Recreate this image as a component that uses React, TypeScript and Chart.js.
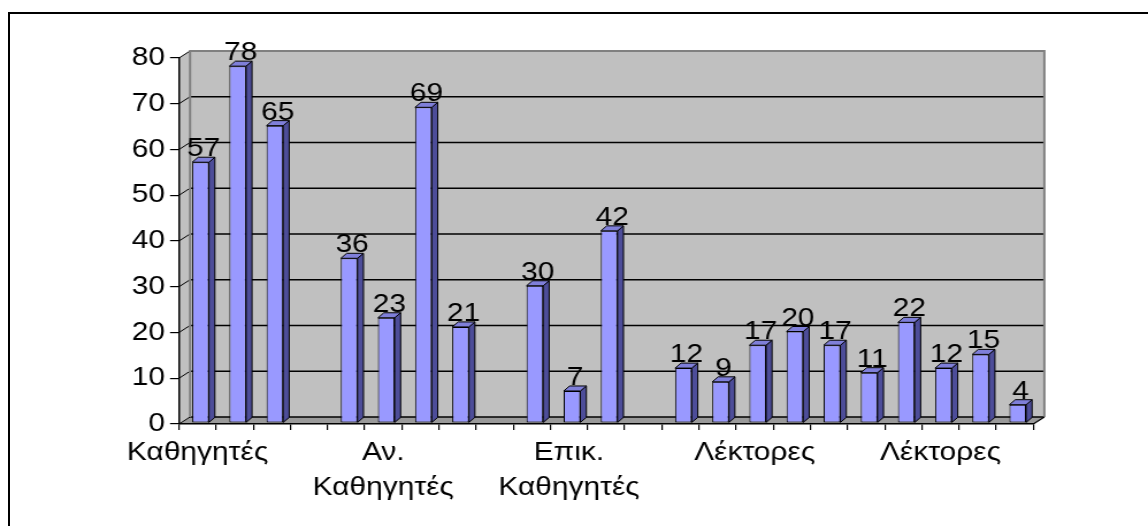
import React, { useEffect, useRef } from 'react';
import { Chart, registerables } from 'chart.js';

Chart.register(...registerables);

// ---- data ----
const categories: (string | string[])[] = [
  'Καθηγητές', '', '', '', '',
  ['Αν.', 'Καθηγητές'], '', '', '', '',
  ['Επικ.', 'Καθηγητές'], '', '', '', '',
  'Λέκτορες', '', '', '', '',
  'Λέκτορες', '', '',
];
const values: (number | null)[] = [
  57, 78, 65, null, 36, 23, 69, 21, null, 30, 7, 42, null,
  12, 9, 17, 20, 17, 11, 22, 12, 15, 4,
];
const yMin = 0;
const yMax = 80;
const yStep = 10;

// ---- presentation ----
const PAGE_W = 1148;
const PAGE_H = 526;
const W = 998; // internal canvas width, stretched horizontally to page width
const FONT = '"Liberation Sans", Arial, sans-serif';
const FS = 26;
const DX = 9.6; // wall depth
const DY = -7;
const BDX = 5.2; // bar depth
const BDY = -5;
const BAR_SHIFT_X = 2.6; // bars sit half-way into the depth
const BAR_SHIFT_Y = -1;

const threeD = {
  id: 'threeD',
  beforeDraw(chart: any) {
    const { ctx, chartArea, scales } = chart;
    const { left: L, right: R, top: T, bottom: B } = chartArea;
    const y = scales.y;
    ctx.save();
    // back wall
    ctx.fillStyle = '#c0c0c0';
    ctx.fillRect(L + DX, T + DY, R - L, B - T);
    // left wall
    ctx.beginPath();
    ctx.moveTo(L, T);
    ctx.lineTo(L + DX, T + DY);
    ctx.lineTo(L + DX, B + DY);
    ctx.lineTo(L, B);
    ctx.closePath();
    ctx.fillStyle = '#c0c0c0';
    ctx.fill();
    // floor
    ctx.beginPath();
    ctx.moveTo(L, B);
    ctx.lineTo(R, B);
    ctx.lineTo(R + DX, B + DY);
    ctx.lineTo(L + DX, B + DY);
    ctx.closePath();
    ctx.fillStyle = '#9a9a9a';
    ctx.fill();
    // gridlines on back wall and side wall
    for (let v = yMin; v <= yMax; v += yStep) {
      const py = y.getPixelForValue(v);
      ctx.strokeStyle = '#000';
      ctx.lineWidth = 1.6;
      if (v < yMax) {
        ctx.beginPath();
        ctx.moveTo(L + DX, py + DY);
        ctx.lineTo(R + DX, py + DY);
        ctx.stroke();
      }
      ctx.lineWidth = 1;
      ctx.beginPath();
      ctx.moveTo(L, py);
      ctx.lineTo(L + DX, py + DY);
      ctx.stroke();
    }
    // wall edges
    ctx.strokeStyle = '#808080';
    ctx.lineWidth = 2;
    ctx.beginPath();
    ctx.moveTo(L + DX, B + DY);
    ctx.lineTo(L + DX, T + DY);
    ctx.lineTo(R + DX, T + DY);
    ctx.lineTo(R + DX, B + DY);
    ctx.stroke();
    // floor right edge
    ctx.strokeStyle = '#000';
    ctx.lineWidth = 1.2;
    ctx.beginPath();
    ctx.moveTo(R, B);
    ctx.lineTo(R + DX, B + DY);
    ctx.stroke();
    ctx.restore();
  },
  beforeDatasetsDraw(chart: any) {
    chart.ctx.save();
    chart.ctx.translate(BAR_SHIFT_X, BAR_SHIFT_Y);
  },
  afterDatasetsDraw(chart: any) {
    const { ctx } = chart;
    const meta = chart.getDatasetMeta(0);
    meta.data.forEach((bar: any, i: number) => {
      const v = values[i];
      if (v == null) return;
      const { x, y, base, width } = bar.getProps(['x', 'y', 'base', 'width'], true);
      const l = x - width / 2;
      const r = x + width / 2;
      ctx.lineWidth = 1;
      ctx.strokeStyle = '#000';
      // side face
      ctx.beginPath();
      ctx.moveTo(r, y);
      ctx.lineTo(r + BDX, y + BDY);
      ctx.lineTo(r + BDX, base + BDY);
      ctx.lineTo(r, base);
      ctx.closePath();
      ctx.fillStyle = '#4d4d99';
      ctx.fill();
      ctx.stroke();
      // top face
      ctx.beginPath();
      ctx.moveTo(l, y);
      ctx.lineTo(l + BDX, y + BDY);
      ctx.lineTo(r + BDX, y + BDY);
      ctx.lineTo(r, y);
      ctx.closePath();
      ctx.fillStyle = '#7f7fd9';
      ctx.fill();
      ctx.stroke();
      // value label
      ctx.fillStyle = '#000';
      ctx.font = `${FS}px ${FONT}`;
      ctx.textAlign = 'center';
      ctx.textBaseline = 'alphabetic';
      ctx.fillText(String(v), x + BDX / 2, y + BDY - 1);
    });
    ctx.restore();
  },
};

export default function App() {
  const canvasRef = useRef<HTMLCanvasElement | null>(null);

  useEffect(() => {
    if (!canvasRef.current) return;
    const chart = new Chart(canvasRef.current, {
      type: 'bar',
      data: {
        labels: categories as any,
        datasets: [
          {
            data: values as any,
            backgroundColor: '#9999ff',
            borderColor: '#000',
            borderWidth: 1,
            borderSkipped: false,
            barPercentage: 0.45,
            categoryPercentage: 1,
          },
        ],
      },
      options: {
        responsive: false,
        animation: false,
        layout: { padding: { left: 0, top: 58, right: W - 898.3, bottom: 0 } },
        plugins: {
          legend: { display: false },
          tooltip: { enabled: false },
        },
        scales: {
          x: {
            type: 'category',
            offset: true,
            grid: {
              offset: true,
              drawOnChartArea: false,
              drawTicks: true,
              tickLength: 6,
              color: '#000',
              lineWidth: 1.2,
            },
            border: { display: true, color: '#000', width: 1.5 },
            ticks: {
              autoSkip: false,
              maxRotation: 0,
              minRotation: 0,
              padding: 5.5,
              color: '#000',
              font: { family: FONT, size: FS, lineHeight: 1.35 },
            },
            afterFit: (s: any) => {
              s.height = 102;
            },
          },
          y: {
            min: yMin,
            max: yMax,
            ticks: {
              stepSize: yStep,
              padding: 4.3,
              color: '#000',
              font: { family: FONT, size: FS },
            },
            grid: {
              drawOnChartArea: false,
              drawTicks: true,
              tickLength: 7.8,
              color: '#000',
              lineWidth: 1.2,
            },
            border: { display: true, color: '#000', width: 1.5 },
            afterFit: (s: any) => {
              s.width = 155.6;
            },
          },
        },
      },
      plugins: [threeD],
    });
    return () => chart.destroy();
  }, []);

  return (
    <div
      style={{
        position: 'absolute',
        left: 0,
        top: 0,
        width: PAGE_W,
        height: PAGE_H,
        overflow: 'hidden',
        background: '#fff',
      }}
    >
      <div
        style={{
          position: 'absolute',
          left: 8,
          top: 12,
          width: 1300,
          height: 700,
          borderLeft: '2px solid #000',
          borderTop: '2px solid #000',
        }}
      />
      <div
        style={{
          position: 'absolute',
          left: 0,
          top: 0,
          width: W,
          height: PAGE_H,
          transform: `scaleX(${PAGE_W / W})`,
          transformOrigin: '0 0',
        }}
      >
        <canvas
          ref={canvasRef}
          width={W}
          height={PAGE_H}
          style={{ width: W, height: PAGE_H, display: 'block' }}
        />
      </div>
    </div>
  );
}
